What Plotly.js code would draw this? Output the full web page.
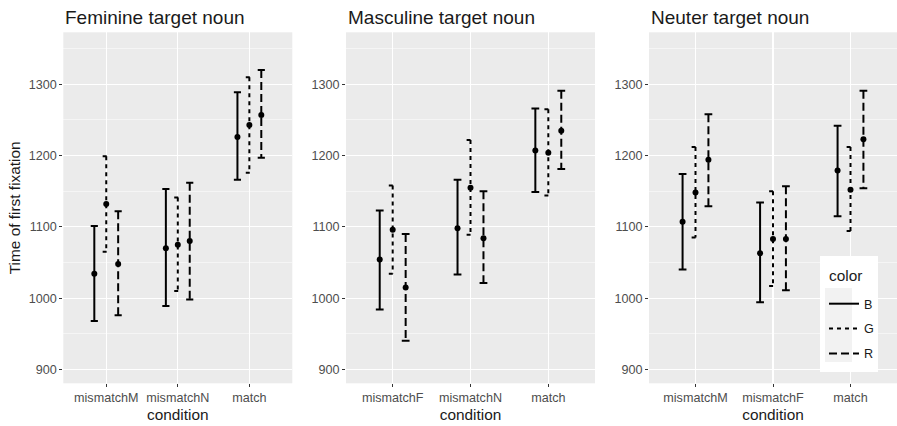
<!DOCTYPE html>
<html>
<head>
<meta charset="utf-8">
<script src="https://cdn.plot.ly/plotly-3.0.1.min.js"></script>
<style>html,body{margin:0;padding:0;background:#fff;}#chart{width:897px;height:426px;}</style>
</head>
<body>
<div id="chart"></div>
<script>
// ---- data ----
const panelTitles = ["Feminine target noun", "Masculine target noun", "Neuter target noun"];
const categoriesFem = ["mismatchM", "mismatchN", "match"];
const categoriesMas = ["mismatchF", "mismatchN", "match"];
const categoriesNeu = ["mismatchM", "mismatchF", "match"];
const seriesNames = ["B", "G", "R"];
const legendTitle = "color";

// Feminine
const femMeanB = [1034, 1070, 1226];
const femLowB  = [968, 989, 1166];
const femHighB = [1101, 1153, 1289];
const femMeanG = [1132, 1075, 1243];
const femLowG  = [1065, 1010, 1176];
const femHighG = [1199, 1141, 1310];
const femMeanR = [1048, 1080, 1257];
const femLowR  = [976, 998, 1197];
const femHighR = [1122, 1162, 1320];

// Masculine
const masMeanB = [1054, 1098, 1207];
const masLowB  = [984, 1033, 1149];
const masHighB = [1123, 1166, 1266];
const masMeanG = [1096, 1155, 1204];
const masLowG  = [1034, 1089, 1144];
const masHighG = [1158, 1222, 1265];
const masMeanR = [1015, 1084, 1235];
const masLowR  = [940, 1021, 1181];
const masHighR = [1090, 1150, 1291];

// Neuter
const neuMeanB = [1107, 1063, 1179];
const neuLowB  = [1040, 994, 1115];
const neuHighB = [1174, 1134, 1242];
const neuMeanG = [1148, 1083, 1152];
const neuLowG  = [1085, 1017, 1094];
const neuHighG = [1212, 1150, 1212];
const neuMeanR = [1194, 1083, 1223];
const neuLowR  = [1129, 1011, 1154];
const neuHighR = [1258, 1157, 1291];

// ---- build ----
const panels = [
  {cats: categoriesFem, mean: [femMeanB, femMeanG, femMeanR], low: [femLowB, femLowG, femLowR], high: [femHighB, femHighG, femHighR]},
  {cats: categoriesMas, mean: [masMeanB, masMeanG, masMeanR], low: [masLowB, masLowG, masLowR], high: [masHighB, masHighG, masHighR]},
  {cats: categoriesNeu, mean: [neuMeanB, neuMeanG, neuMeanR], low: [neuLowB, neuLowG, neuLowR], high: [neuHighB, neuHighG, neuHighR]}
];
const dashes = ["solid", "4px,4px", "8px,4px"];
const dodge = [-1/6, 0, 1/6];
const capHalf = 0.05;
const traces = [];
panels.forEach((p, pi) => {
  const xa = pi === 0 ? "x" : "x" + (pi + 1);
  const ya = pi === 0 ? "y" : "y" + (pi + 1);
  seriesNames.forEach((s, si) => {
    const xs = [], ys = [], mx = [];
    p.cats.forEach((c, ci) => {
      const xc = ci + 1 + dodge[si];
      const hi = p.high[si][ci], lo = p.low[si][ci];
      xs.push(xc - capHalf, xc + capHalf, null, xc, xc, null, xc - capHalf, xc + capHalf, null);
      ys.push(hi, hi, null, hi, lo, null, lo, lo, null);
      mx.push(xc);
    });
    traces.push({
      type: "scatter", mode: "lines", x: xs, y: ys, xaxis: xa, yaxis: ya,
      name: s, legendgroup: s, showlegend: pi === 0, connectgaps: false,
      line: {color: "#000000", width: 2, dash: dashes[si]}, hoverinfo: "skip"
    });
    traces.push({
      type: "scatter", mode: "markers", x: mx, y: p.mean[si], xaxis: xa, yaxis: ya,
      name: s, legendgroup: s, showlegend: false,
      marker: {color: "#000000", size: 6}
    });
  });
});

const W = 897, H = 426;
const xDomains = [[63.3 / W, 292.3 / W], [346 / W, 595 / W], [649 / W, 1.0]];
const yDomain = [1 - 383.3 / H, 1 - 32.3 / H];
const fontFam = "Liberation Sans, Arial, sans-serif";

const layout = {
  width: W, height: H,
  margin: {l: 0, r: 0, t: 0, b: 0},
  paper_bgcolor: "#ffffff",
  plot_bgcolor: "#EBEBEB",
  font: {family: fontFam, color: "#000000"},
  showlegend: true,
  legend: {
    x: 824 / W, y: 1 - 289 / H, xanchor: "left", yanchor: "top",
    bgcolor: "rgba(0,0,0,0)", borderwidth: 0,
    font: {size: 12.6, color: "#1A1A1A"},
    itemwidth: 30, tracegroupgap: 5.5
  },
  shapes: [
    {type: "rect", xref: "paper", yref: "paper", layer: "above",
     x0: 820 / W, x1: 878 / W, y0: 1 - 372 / H, y1: 1 - 256 / H,
     fillcolor: "#ffffff", line: {width: 0}},
    {type: "rect", xref: "paper", yref: "paper", layer: "above",
     x0: 825 / W, x1: 852 / W, y0: 1 - 362 / H, y1: 1 - 288 / H,
     fillcolor: "#F2F2F2", line: {width: 0}}
  ],
  annotations: [
    {text: legendTitle, xref: "paper", yref: "paper", x: 827 / W, y: 1 - 275 / H,
     xanchor: "left", yanchor: "middle", showarrow: false,
     font: {size: 15.4, color: "#1A1A1A", family: fontFam}}
  ],
  hovermode: false
};

panels.forEach((p, pi) => {
  const sfx = pi === 0 ? "" : String(pi + 1);
  layout["xaxis" + sfx] = {
    domain: xDomains[pi], anchor: "y" + sfx,
    range: [0.4, 3.6], tickvals: [1, 2, 3], ticktext: p.cats,
    showgrid: true, gridcolor: "#ffffff", gridwidth: 1.1,
    zeroline: false, showline: false,
    ticks: "outside", ticklen: 3, tickcolor: "#333333", tickwidth: 1,
    tickfont: {size: 12.6, color: "#4D4D4D", family: fontFam},
    title: {text: "condition", font: {size: 15.4, color: "#1A1A1A", family: fontFam}, standoff: 4},
    fixedrange: true
  };
  layout["yaxis" + sfx] = {
    domain: yDomain, anchor: "x" + sfx,
    range: [880.4, 1373],
    tickvals: [900, 1000, 1100, 1200, 1300],
    showgrid: true, gridcolor: "#ffffff", gridwidth: 1.1,
    minor: {tickvals: [950, 1050, 1150, 1250, 1350], showgrid: true, gridcolor: "#ffffff", gridwidth: 0.5, ticks: ""},
    zeroline: false, showline: false,
    ticks: "outside", ticklen: 3, tickcolor: "#333333", tickwidth: 1,
    ticklabelstandoff: 0,
    tickfont: {size: 12.6, color: "#4D4D4D", family: fontFam},
    fixedrange: true
  };
  layout.annotations.push({
    text: panelTitles[pi], xref: "paper", yref: "paper",
    x: xDomains[pi][0], y: 1 - 17 / H, xanchor: "left", yanchor: "middle",
    showarrow: false, font: {size: 19, color: "#1A1A1A", family: fontFam}
  });
});
layout.yaxis.title = {text: "Time of first fixation", font: {size: 15.4, color: "#1A1A1A", family: fontFam}, standoff: 4};

Plotly.newPlot("chart", traces, layout, {displayModeBar: false, staticPlot: true});
</script>
</body>
</html>
